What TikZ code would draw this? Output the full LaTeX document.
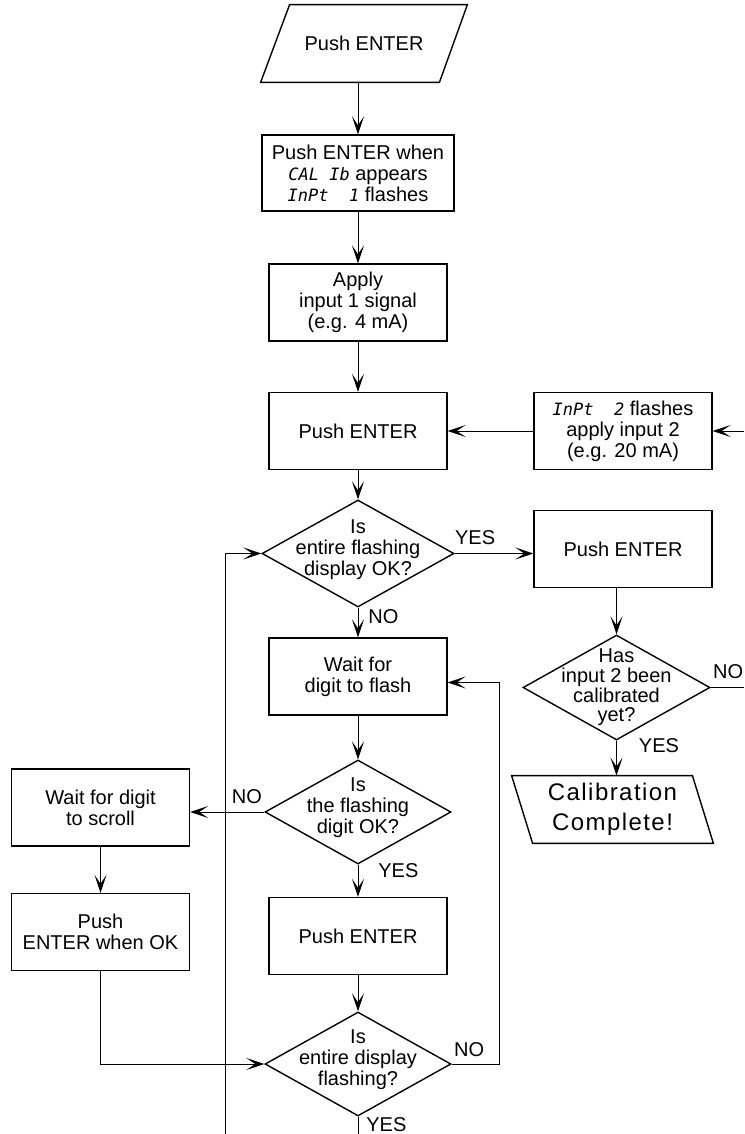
\documentclass[tikz,border=0pt]{standalone}
\usepackage{fontspec}
\setmainfont{Liberation Sans}
\newfontfamily\lcdfont{DejaVu Sans Mono}[Scale=0.85]
\newfontfamily\spacedfont{Liberation Sans}[LetterSpace=6]
\newcommand{\lcd}[1]{{\lcdfont\itshape #1}}
\usetikzlibrary{shapes.geometric}
\usetikzlibrary{arrows.meta}
\usetikzlibrary{positioning}

\begin{document}
\begin{tikzpicture}[x=0.5pt,y=-0.5pt,
  every node/.style={font=\fontsize{10}{10.5}\selectfont,align=center,inner sep=0pt},
  box/.style={draw,line width=0.7pt,minimum width=89pt,minimum height=38.5pt},
  decision/.style={draw,diamond,line width=0.7pt,minimum width=93pt,minimum height=52pt},
  io/.style={minimum width=89pt,minimum height=38.5pt},
  outline/.style={line width=0.7pt},
  ln/.style={line width=0.5pt},
  arr/.style={line width=0.5pt,-{Stealth[length=9pt,width=6pt,inset=4.5pt]}}]
\useasboundingbox (0,0) rectangle (744,1134);
\node[io] (start) at (364,43.5) {Push ENTER};
\draw[outline] ([xshift=-7pt]start.south west) -- ([xshift=7.5pt]start.north west)
  -- ([xshift=7pt]start.north east) -- ([xshift=-7pt]start.south east) -- cycle;
\node[box,minimum width=96pt,minimum height=38pt] (calib) at (358,173) {Push ENTER when\\\lcd{CAL Ib} appears\\\lcd{InPt\ \ 1} flashes};
\node[box] (apply1) at (358,302.5) {Apply\\input 1 signal\\(e.g. 4 mA)};
\node[box] (enter1) at (358,431) {Push ENTER};
\node[box] (apply2) at (623,431) {\lcd{InPt\ \ 2} flashes\\apply input 2\\(e.g. 20 mA)};
\node[decision,minimum width=96pt,minimum height=53.5pt,label={[align=center,yshift=2pt]center:Is\\entire flashing\\display OK?}] (okall) at (358,553.5) {};
\node[box] (enter2) at (623,549) {Push ENTER};
\node[decision,minimum width=93.5pt,minimum height=52.5pt,label={[align=center,font=\fontsize{10}{9.8}\selectfont]center:Has\\input 2 been\\calibrated\\yet?}] (done) at (616.5,687.5) {};
\node[io,minimum width=90pt,minimum height=33.5pt,font=\fontsize{12}{15}\spacedfont] (finish) at (612.5,809.5) {Calibration\\Complete!};
\draw[outline] ([xshift=5.25pt]finish.south west) -- ([xshift=-5.25pt]finish.north west)
  -- ([xshift=-5.25pt]finish.north east) -- ([xshift=5.25pt]finish.south east) -- cycle;
\node[box] (waitflash) at (358,676.5) {Wait for\\digit to flash};
\node[decision,label={[align=center,yshift=2pt]center:Is\\the flashing\\digit OK?}] (okdigit) at (358,812) {};
\node[box] (waitscroll) at (100.5,807.5) {Wait for digit\\to scroll};
\node[box] (enterok) at (100.5,932) {Push\\ENTER when OK};
\node[box] (enter3) at (358,936) {Push ENTER};
\node[decision,label={[align=center,yshift=2pt]center:Is\\entire display\\flashing?}] (allflash) at (358,1064) {};

\node[anchor=south west] (yes1) at ([yshift=4pt]okall.east) {YES};
\node[anchor=north west] (no1) at ([xshift=5pt,yshift=-0.5pt]okall.south) {NO};
\node[anchor=south west] (no4) at ([xshift=1pt,yshift=4pt]done.east) {NO};
\node[anchor=north west] (yes4) at ([xshift=11pt,yshift=1.5pt]done.south) {YES};
\node[anchor=south east] (no2) at ([xshift=-1pt,yshift=4pt]okdigit.west) {NO};
\node[anchor=north west] (yes2) at ([xshift=10pt,yshift=1pt]okdigit.south) {YES};
\node[anchor=south west] (no3) at ([xshift=1pt,yshift=3.5pt]allflash.east) {NO};
\node[anchor=north west] (yes3) at ([xshift=4pt,yshift=0pt]allflash.south) {YES};

\coordinate (edgeR) at (744,0);
\coordinate (edgeB) at (0,1134);
\coordinate (loopL) at (225,1134);

\draw[arr] (start.south -| calib.north) -- (calib.north);
\draw[arr] (calib) -- (apply1);
\draw[arr] (apply1) -- (enter1);
\draw[arr] (apply2.east -| edgeR) -- (apply2.east);
\draw[arr] (apply2) -- (enter1);
\draw[arr] (enter1) -- (okall);
\draw[arr] (okall.east) -- (okall.east -| enter2.west);
\draw[arr] (okall) -- (waitflash);
\draw[arr] (enter2.south -| done.north) -- (done.north);
\draw[ln] (done.east) -- (done.east -| edgeR);
\draw[arr] (done.south) -- (done.south |- finish.north);
\draw[arr] (waitflash) -- (okdigit);
\draw[arr] (okdigit.west) -- (okdigit.west -| waitscroll.east);
\draw[arr] (okdigit) -- (enter3);
\draw[arr] (waitscroll) -- (enterok);
\draw[arr] (enterok.south) |- (allflash.west);
\draw[arr] (enter3) -- (allflash);
\draw[arr] (allflash.east) -- ++(48,0) |- ([yshift=-3pt]waitflash.east);
\draw[ln] (allflash.south) -- (allflash.south |- edgeB);
\draw[arr] (loopL) |- (okall.west);
\end{tikzpicture}
\end{document}
